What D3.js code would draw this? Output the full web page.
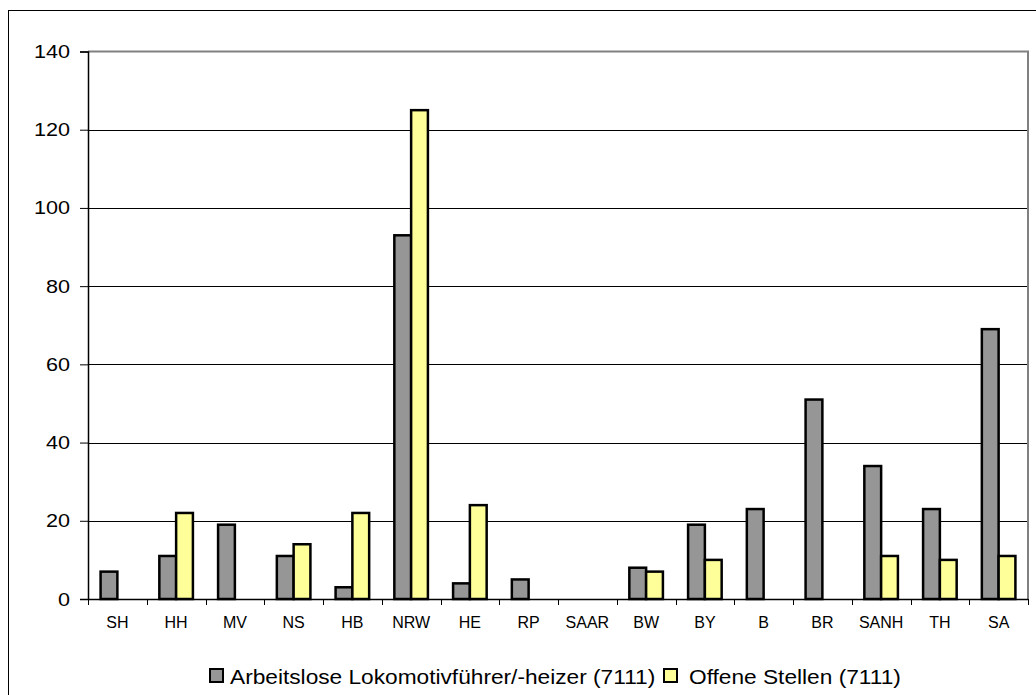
<!DOCTYPE html>
<html><head><meta charset="utf-8">
<script src="https://cdn.jsdelivr.net/npm/d3@7"></script>
<style>html,body{margin:0;padding:0;background:#fff;}svg{display:block;font-family:Arial,"Liberation Sans",sans-serif;}</style>
</head><body>
<svg id="c" width="1036" height="695"></svg>
<script>
const categories = ["SH","HH","MV","NS","HB","NRW","HE","RP","SAAR","BW","BY","B","BR","SANH","TH","SA"];
const arbeitslose = [7,11,19,11,3,93,4,5,0,8,19,23,51,34,23,69];
const offene = [0,22,0,14,22,125,24,0,0,7,10,0,0,11,10,11];
const seriesNames = ["Arbeitslose Lokomotivführer/-heizer (7111)","Offene Stellen (7111)"];
const seriesColors = ["#969696","#ffff99"];
const yTicks = [0,20,40,60,80,100,120,140];

const svg = d3.select("#c");
// outer chart border
svg.append("rect").attr("x",8.5).attr("y",10.5).attr("width",1040).attr("height",700)
  .attr("fill","none").attr("stroke","#000").attr("stroke-width",1);

const L=88, R=1028, T=51.5, B=599;
const x = d3.scaleBand().domain(categories).range([L,R]).paddingInner(0).paddingOuter(0);
const y = d3.scaleLinear().domain([0,140]).range([B,T]);
const bw = x.bandwidth()/3.5;
const x1 = d3.scaleBand().domain([0,1]).range([0,2*bw]);

// gridlines
svg.append("g").selectAll("line").data(yTicks.filter(d=>d>0&&d<140)).join("line")
  .attr("x1",L).attr("x2",R).attr("y1",d=>Math.round(y(d))+0.5).attr("y2",d=>Math.round(y(d))+0.5)
  .attr("stroke","#000").attr("stroke-width",1);
// plot area border top/right (gray)
svg.append("path").attr("d",`M${L},${T}H${R}V${B}`).attr("fill","none").attr("stroke","#808080").attr("stroke-width",2);

// bars
const data = [arbeitslose, offene];
const g = svg.append("g");
data.forEach((vals,si)=>{
  g.selectAll(null).data(categories.map((c,i)=>({c,v:vals[i]})).filter(d=>d.v>0)).join("rect")
    .attr("x",d=>x(d.c)+ (x.bandwidth()-2*bw)/2 + x1(si))
    .attr("y",d=>y(d.v))
    .attr("width",bw)
    .attr("height",d=>B-y(d.v))
    .attr("fill",seriesColors[si]).attr("stroke","#000").attr("stroke-width",2.5);
});

// y axis
const yAxis = d3.axisLeft(y).tickValues(yTicks).tickSize(8).tickFormat("");
const ya = svg.append("g").attr("transform",`translate(${L},0)`).call(yAxis);
ya.select(".domain").attr("stroke","#000").attr("stroke-width",1.5);
ya.selectAll(".tick line").attr("stroke","#000");
svg.append("g").selectAll("text").data(yTicks).join("text")
  .attr("transform",d=>`translate(70,${y(d)+6.5}) scale(1.2,1)`)
  .attr("text-anchor","end").attr("font-size",18).attr("fill","#000").text(d=>d3.format("d")(d));

// x axis
const xa = svg.append("g").attr("transform",`translate(0,${B})`);
xa.append("line").attr("x1",L).attr("x2",R).attr("y1",0.5).attr("y2",0.5).attr("stroke","#000").attr("stroke-width",1.5);
const bounds = categories.map(c=>x(c)).concat([R]);
xa.selectAll(".tk").data(bounds).join("line").attr("class","tk")
  .attr("x1",d=>Math.round(d)+0.5).attr("x2",d=>Math.round(d)+0.5).attr("y1",0).attr("y2",6)
  .attr("stroke","#000");
xa.selectAll("text").data(categories).join("text")
  .attr("x",d=>x(d)+x.bandwidth()/2).attr("y",29).attr("text-anchor","middle")
  .attr("font-size",16).attr("fill","#000").text(d=>d);

// legend
const leg = svg.append("g");
const items = [{sx:209,tx:230,name:seriesNames[0],c:seriesColors[0]},{sx:663,tx:689,name:seriesNames[1],c:seriesColors[1]}];
items.forEach(it=>{
  leg.append("rect").attr("x",it.sx+1).attr("y",669).attr("width",13).attr("height",13)
    .attr("fill",it.c).attr("stroke","#000").attr("stroke-width",2);
  leg.append("text").attr("transform",`translate(${it.tx},683.5) scale(1.135,1)`)
    .attr("font-size",20).attr("fill","#000").text(it.name);
});
</script>
</body></html>
